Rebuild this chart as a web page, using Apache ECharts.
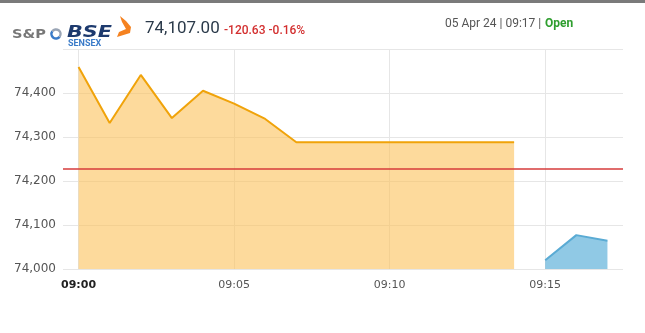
<!DOCTYPE html>
<html>
<head>
<meta charset="utf-8">
<script src="https://cdn.jsdelivr.net/npm/echarts@6/dist/echarts.min.js"></script>
<style>
html,body{margin:0;padding:0;background:#fff;}
#c{width:645px;height:333px;}
</style>
</head>
<body>
<div id="c"></div>
<script>
// Minutes after 09:00 and index values
var sessionMinutes = [0,1,2,3,4,5,6,7,8,9,10,11,12,13,14];
var sessionValues = [74459,74332,74441,74343,74405,74376,74341,74288,74288,74288,74288,74288,74288,74288,74288];
var liveMinutes = [15,16,17];
var liveValues = [74020,74077,74064];
var previousClose = 74227.63;
var xTickMinutes = [0,5,10,15];
var xTickLabels = ['09:00','09:05','09:10','09:15'];
var yTicks = [74000,74100,74200,74300,74400,74500];

var lastPrice = '74,107.00';
var changeText = '-120.63 -0.16%';
var stampText = '05 Apr 24 | 09:17 |';
var statusText = 'Open';

function pairs(xs, ys){ return xs.map(function(x,i){ return [x, ys[i]]; }); }

var chart = echarts.init(document.getElementById('c'), null, {renderer:'canvas'});
chart.setOption({
  animation:false,
  grid:{left:63, right:22, top:49, bottom:64},
  xAxis:{
    type:'value', min:-0.5, max:17.5,
    axisLine:{show:false},
    axisTick:{show:false, customValues:xTickMinutes},
    splitLine:{show:true, lineStyle:{color:'#e6e6e6', width:1}},
    axisLabel:{
      customValues:xTickMinutes,
      color:'#555', fontSize:11, fontFamily:'"DejaVu Sans", sans-serif', margin:11,
      formatter:function(v){
        var i = xTickMinutes.indexOf(v);
        var t = i>=0 ? xTickLabels[i] : '';
        return i===0 ? '{b|'+t+'}' : t;
      },
      rich:{b:{fontWeight:'bold', color:'#222', fontSize:11, fontFamily:'"DejaVu Sans", sans-serif'}}
    }
  },
  yAxis:{
    type:'value', min:yTicks[0], max:yTicks[yTicks.length-1], interval:100,
    axisLine:{show:false}, axisTick:{show:false},
    splitLine:{lineStyle:{color:'#e6e6e6', width:1}},
    axisLabel:{
      showMaxLabel:false, color:'#555', fontSize:12, fontFamily:'"DejaVu Sans", sans-serif', margin:7,
      formatter:function(v){ return v.toLocaleString('en-US'); }
    }
  },
  series:[
    {
      type:'line', data:pairs(sessionMinutes, sessionValues), symbol:'none',
      lineStyle:{color:'#f0a30a', width:2},
      areaStyle:{color:'rgba(252,193,90,0.6)', opacity:1, origin:'start'},
      z:2
    },
    {
      type:'line', data:pairs(liveMinutes, liveValues), symbol:'none',
      lineStyle:{color:'#5aabd4', width:2},
      areaStyle:{color:'rgba(70,165,212,0.6)', opacity:1, origin:'start'},
      z:2,
      markLine:{
        silent:true, symbol:'none', label:{show:false},
        lineStyle:{color:'#d63b3b', width:1.5, type:'solid'},
        data:[{yAxis:previousClose}]
      }
    }
  ],
  graphic:[
    {type:'rect', shape:{x:0,y:0,width:645,height:3}, style:{fill:'#7a7a7a'}},
    {type:'text', x:12, y:28, scaleX:1.12, style:{text:'S&P', fontSize:13, fontWeight:'bold', fontFamily:'"DejaVu Sans", sans-serif', fill:'#777'}},
    {type:'arc', shape:{cx:56, cy:34, r:4.5, startAngle:Math.PI*0.2, endAngle:Math.PI*1.2}, style:{fill:'none', stroke:'#3a7bc8', lineWidth:2.5}},
    {type:'arc', shape:{cx:56, cy:34, r:4.5, startAngle:Math.PI*1.2, endAngle:Math.PI*2.2}, style:{fill:'none', stroke:'#9aa5b5', lineWidth:2.5}},
    {type:'text', x:67, y:25, scaleX:1.3, style:{text:'BSE', fontSize:16, fontWeight:'bold', fontStyle:'italic', fontFamily:'"DejaVu Sans", sans-serif', fill:'#1d3a6e'}},
    {type:'text', x:68, y:39, style:{text:'SENSEX', fontSize:9, fontWeight:'bold', fontFamily:'Roboto, sans-serif', fill:'#3a7bc8'}},
    {type:'polygon', shape:{points:[[120,16],[126,21],[131,27],[130,33],[117,37],[119,32],[126,29],[122,22]]}, style:{fill:'#f58220'}},
    {type:'text', left:145, top:20, style:{text:lastPrice, fontSize:17, fontFamily:'Roboto, sans-serif', fill:'#2b3a4a'}},
    {type:'text', left:224, top:25, style:{text:changeText, fontSize:12, fontWeight:500, fontFamily:'Roboto, sans-serif', fill:'#d32f2f'}},
    {type:'text', left:445, top:18, style:{text:stampText, fontSize:12, fontFamily:'Roboto, sans-serif', fill:'#555'}},
    {type:'text', left:545, top:18, style:{text:statusText, fontSize:12, fontWeight:'bold', fontFamily:'Roboto, sans-serif', fill:'#2e9e2e'}}
  ]
});
</script>
</body>
</html>
